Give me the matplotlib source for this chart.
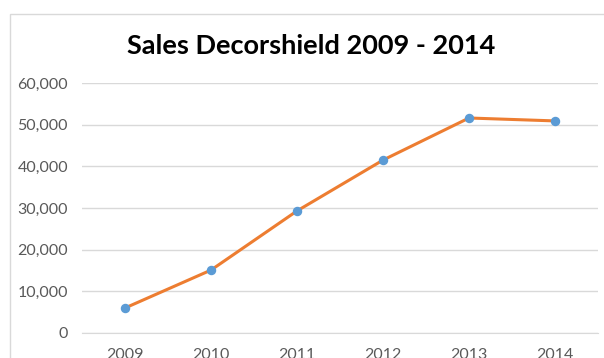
import matplotlib
matplotlib.use("Agg")
import matplotlib.pyplot as plt
from matplotlib.patches import Rectangle
from matplotlib.ticker import FuncFormatter

# datos
years = ["2009", "2010", "2011", "2012", "2013", "2014"]
sales = [6000, 15100, 29300, 41500, 51600, 50900]
yticks = [0, 10000, 20000, 30000, 40000, 50000, 60000]

plt.rcParams['font.family'] = ['Lato', 'DejaVu Sans']

fig = plt.figure(figsize=(6.04, 3.58), dpi=100)
fig.patch.set_facecolor("white")

# marco del grafico (cortado a la derecha y abajo)
fig.patches.append(Rectangle((10/604, -0.1), 1.0, 1 - 14/358 + 0.1,
                             transform=fig.transFigure, fill=False,
                             edgecolor="#d9d9d9", linewidth=1))

ax = fig.add_axes([82/604, 25/358, 516/604, 250/358])
x = range(len(years))
ax.plot(x, sales, color="#ED7D31", linewidth=2.2, zorder=3)
ax.plot(x, sales, linestyle="none", marker="o", markersize=5.8,
        color="#5B9BD5", zorder=4)

ax.set_xlim(-0.5, len(years) - 0.5)
ax.set_ylim(0, 60000)
ax.set_yticks(yticks)
ax.yaxis.set_major_formatter(FuncFormatter(lambda v, p: f"{int(v):,}"))
ax.set_xticks(list(x))
ax.set_xticklabels(years)

ax.grid(axis="y", color="#d9d9d9", linewidth=1)
ax.set_axisbelow(True)
for s in ["top", "right", "left"]:
    ax.spines[s].set_visible(False)
ax.spines["bottom"].set_color("#d9d9d9")
ax.tick_params(axis="both", length=0, labelsize=11.5, colors="#595959")
ax.tick_params(axis="y", pad=10)
ax.tick_params(axis="x", pad=11)

fig.text(311/604, 1 - 46/358, "Sales Decorshield 2009 - 2014",
         ha="center", va="center", fontsize=19.5, fontweight="bold",
         color="black")

fig.savefig("out.png", dpi=100)
